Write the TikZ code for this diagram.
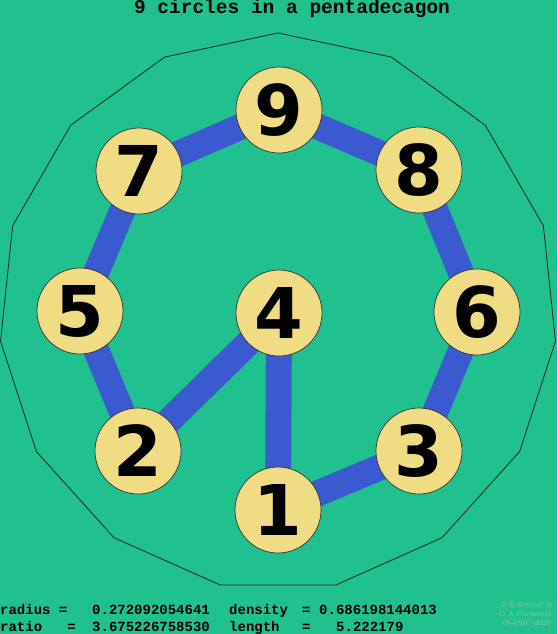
\documentclass[tikz,border=0pt]{standalone}
\usepackage{fontspec}
\newfontfamily\numfont{DejaVu Sans}
\newfontfamily\monofont{Liberation Mono}
\definecolor{bggreen}{RGB}{33,192,143}
\definecolor{edgeblue}{RGB}{60,90,208}
\definecolor{discyellow}{RGB}{240,220,130}
\definecolor{copygrey}{RGB}{150,196,176}
\pgfdeclarelayer{bg}
\pgfdeclarelayer{edges}
\pgfsetlayers{bg,edges,main}
\tikzset{
  disc/.style={circle, draw=black!80, line width=0.7pt, fill=discyellow, minimum size=86pt, inner sep=0pt,
    font=\numfont\bfseries\fontsize{70}{70}\selectfont},
  link/.style={draw=edgeblue, line width=26pt},
  poly/.style={draw=black!85, line width=0.8pt},
  titletext/.style={font=\monofont\bfseries\fontsize{19.5}{20}\selectfont, anchor=base, inner sep=0pt},
  datatext/.style={font=\monofont\bfseries\fontsize{14}{14}\selectfont, anchor=base west, inner sep=0pt},
  copytext/.style={font=\fontsize{7.6}{7.6}\selectfont, text=copygrey, anchor=base west, inner sep=0pt}
}
\begin{document}
\begin{tikzpicture}[x=1pt,y=-1pt]
\begin{pgfonlayer}{bg}
  \fill[bggreen] (0,0) rectangle (557,634);
\end{pgfonlayer}
\useasboundingbox (0,0) rectangle (557,634);
\begin{scope}[shift={(278,312)}]
  \draw[poly] (-90:279) \foreach \k in {1,...,14}{ -- (-90+24*\k:279)} -- cycle;
\end{scope}
\node[titletext] (title) at (292,14) {9 circles in a pentadecagon};
\node[disc] (c9) at (279,110) {9};
\node[disc] (c7) at (139,171) {7};
\node[disc] (c8) at (419,170) {8};
\node[disc] (c5) at (80,311) {5};
\node[disc] (c4) at (279,313) {4};
\node[disc] (c6) at (477,312) {6};
\node[disc] (c2) at (138,451) {2};
\node[disc] (c3) at (419,451) {3};
\node[disc] (c1) at (278,510) {1};
\begin{pgfonlayer}{edges}
  \draw[link] (c9.center) -- (c7.center);
  \draw[link] (c9.center) -- (c8.center);
  \draw[link] (c7.center) -- (c5.center);
  \draw[link] (c8.center) -- (c6.center);
  \draw[link] (c5.center) -- (c2.center);
  \draw[link] (c6.center) -- (c3.center);
  \draw[link] (c2.center) -- (c4.center);
  \draw[link] (c4.center) -- (c1.center);
  \draw[link] (c1.center) -- (c3.center);
\end{pgfonlayer}
\node[datatext] (r1a) at (0,614) {radius =};
\node[datatext] (r1b) at (92,614) {0.272092054641};
\node[datatext] (r1c) at (229,614) {density};
\node[datatext] (r1d) at (302,614) {=};
\node[datatext] (r1e) at (319,614) {0.686198144013};
\node[datatext] (r2a) at (0,631) {ratio\ \ \ =};
\node[datatext] (r2b) at (92,631) {3.675226758530};
\node[datatext] (r2c) at (229,631) {length};
\node[datatext] (r2d) at (302,631) {=};
\node[datatext] (r2e) at (336,631) {5.222179};
\node[copytext] (cp1) at (501,607) {\copyright\ \textsc{E.Specht} \&};
\node[copytext] (cp2) at (499,616) {\textsc{D.A.Paterson}};
\node[copytext] (cp3) at (503,625) {08-DEC-2020};
\end{tikzpicture}
\end{document}
